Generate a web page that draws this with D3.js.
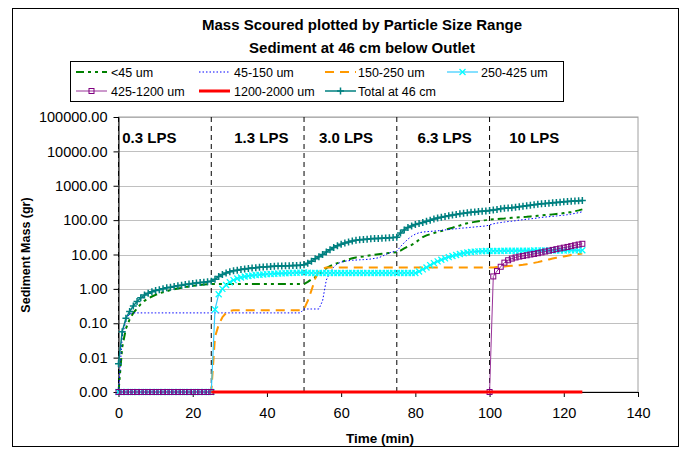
<!DOCTYPE html>
<html>
<head>
<meta charset="utf-8">
<script src="https://cdn.jsdelivr.net/npm/d3@7"></script>
<style>
  body { margin: 0; background: #fff; }
  svg { font-family: Arial, "Liberation Sans", sans-serif; }
</style>
</head>
<body>
<div id="vis"></div>
<script>
//data----
const time = [0,1,2,3,4,5,6,7,8,9,10,11,12,13,14,15,16,17,18,19,20,21,22,23,24,25,
  26,27,28,29,30,31,32,33,34,35,36,37,38,39,40,41,42,43,44,45,46,47,48,49,50,
  51,52,53,54,55,56,57,58,59,60,61,62,63,64,65,66,67,68,69,70,71,72,73,74,75,
  76,77,78,79,80,81,82,83,84,85,86,87,88,89,90,91,92,93,94,95,96,97,98,99,100,
  101,102,103,104,105,106,107,108,109,110,111,112,113,114,115,116,117,118,119,120,121,122,123,124,125]

const lt45 = [0,.02,.07,.13,.2,.27,.36,.45,.53,.6,.67,.74,.8,.86,.92,.97,1.02,1.07,1.12,1.17,1.22,1.26,1.3,1.33,1.36,1.38,
  1.38,1.38,1.38,1.38,1.38,1.38,1.38,1.38,1.38,1.38,1.38,1.38,1.38,1.38,1.38,1.38,1.38,1.38,1.38,1.38,1.38,1.38,1.38,1.38,1.38,
  1.6,1.9,2.2,2.6,3.2,4.0,4.6,5.1,5.6,6.0,6.6,7.2,7.8,8.2,8.5,8.8,9.2,9.6,9.9,10.2,10.5,10.8,11.1,11.4,11.7,
  13,15,17,19,22,27,32,36,39,42,45,48,52,56,60,65,70,76,81,85,89,93,97,100,104,
  106,108,110,112,115,117,119,121,123,125,128,131,134,137,140,143,147,151,155,160,166,173,182,192,205]

const s45to150 = [0,.04,.12,.19,.2,.2,.2,.2,.2,.2,.2,.2,.2,.2,.2,.2,.2,.2,.2,.2,.2,.2,.2,.2,.2,.2,
  .2,.2,.2,.2,.2,.2,.2,.2,.2,.2,.2,.2,.2,.2,.2,.2,.2,.2,.2,.2,.2,.2,.2,.2,.26,
  .26,.26,.26,.26,.45,1.8,3.0,4.3,5.4,6.0,6.4,6.6,6.8,6.9,7.0,7.1,7.2,7.4,7.7,8.0,8.8,10.0,11.2,12.0,12.5,
  17,22,28,34,39,43,45,46,47,48,49,50,52,53,55,56,58,59,60,62,63,65,66,68,72,
  78,82,85,88,91,93,96,100,103,106,109,112,116,120,123,126,129,132,136,139,144,150,157,165,175]

const s150to250 = [0,0,0,0,0,0,0,0,0,0,0,0,0,0,0,0,0,0,0,0,0,0,0,0,0,0,
  .04,.09,.15,.2,.23,.24,.24,.24,.24,.24,.24,.24,.24,.24,.24,.24,.24,.24,.24,.24,.24,.24,.24,.24,.26,
  .45,.9,2.0,3.2,3.9,4.2,4.2,4.2,4.2,4.2,4.2,4.2,4.2,4.2,4.2,4.2,4.2,4.2,4.2,4.2,4.2,4.2,4.2,4.2,4.2,
  4.2,4.2,4.2,4.2,4.2,4.2,4.2,4.2,4.2,4.2,4.2,4.2,4.2,4.2,4.2,4.2,4.2,4.2,4.2,4.2,4.2,4.2,4.2,4.2,4.2,
  4.2,4.3,4.4,4.5,4.6,4.7,4.8,4.9,5.0,5.2,5.4,5.7,6.0,6.4,6.8,7.2,7.6,8.0,8.4,8.8,9.2,9.6,10.0,10.3,10.6]

const s250to425 = [0,0,0,0,0,0,0,0,0,0,0,0,0,0,0,0,0,0,0,0,0,0,0,0,0,0,
  .25,.7,1.0,1.3,1.55,1.8,2.0,2.15,2.28,2.38,2.46,2.52,2.58,2.63,2.68,2.72,2.76,2.8,2.83,2.86,2.89,2.92,2.95,2.97,3.0,
  2.95,2.9,2.9,2.9,2.9,2.9,2.9,2.9,2.9,2.9,2.9,2.9,2.9,2.9,2.9,2.9,2.9,2.9,2.9,2.9,2.9,2.9,2.9,2.9,2.9,
  2.9,2.9,2.9,2.9,2.9,3.2,3.7,4.2,4.9,5.6,6.3,7.0,7.7,8.4,9.0,9.7,10.3,10.9,11.4,11.8,12.1,12.3,12.5,12.6,12.7,
  12.7,12.7,12.7,12.8,12.8,12.8,12.8,12.9,12.9,12.9,12.9,13,13,13,13,13,13.1,13.1,13.1,13.1,13.2,13.2,13.2,13.2,13.3]

const s425to1200 = [0,0,0,0,0,0,0,0,0,0,0,0,0,0,0,0,0,0,0,0,0,0,0,0,0,0,
  null,null,null,null,null,null,null,null,null,null,null,null,null,null,null,null,null,null,null,null,null,null,null,null,null,
  null,null,null,null,null,null,null,null,null,null,null,null,null,null,null,null,null,null,null,null,null,null,null,null,null,
  null,null,null,null,null,null,null,null,null,null,null,null,null,null,null,null,null,null,null,null,null,null,null,null,0,
  2.3,3.3,4.4,5.8,6.8,7.6,8.2,8.7,9.1,9.5,10.0,10.4,10.9,11.5,12.2,12.9,13.6,14.3,15.0,15.8,16.6,17.5,18.5,19.5,20.5]

const s1200to2000 = [null,null,null,null,null,null,null,null,null,null,null,null,null,null,null,null,null,null,null,null,null,null,null,null,null,0,
  0,0,0,0,0,0,0,0,0,0,0,0,0,0,0,0,0,0,0,0,0,0,0,0,0,
  0,0,0,0,0,0,0,0,0,0,0,0,0,0,0,0,0,0,0,0,0,0,0,0,0,
  0,0,0,0,0,0,0,0,0,0,0,0,0,0,0,0,0,0,0,0,0,0,0,0,0,
  0,0,0,0,0,0,0,0,0,0,0,0,0,0,0,0,0,0,0,0,0,0,0,0,0]

const total46 = [.0066,.057,.14,.22,.32,.43,.55,.66,.75,.82,.89,.95,1.01,1.07,1.12,1.18,1.23,1.28,1.33,1.38,1.43,1.48,1.52,1.57,1.61,1.66,
  1.9,2.3,2.6,2.9,3.15,3.35,3.5,3.65,3.78,3.9,4.05,4.15,4.25,4.35,4.42,4.48,4.54,4.6,4.65,4.7,4.74,4.78,4.82,4.86,5.0,
  5.6,6.4,7.5,8.6,10,11.8,13.8,16,18,20,21.7,23.2,24.6,25.8,26.7,27.4,28,28.5,29,29.4,29.8,30.2,30.6,31,31.6,
  42,52,61,68,74,80,86,93,100,108,115,122,128,134,140,146,152,158,164,169,173,177,181,185,190,
  196,205,213,220,225,230,238,246,255,263,272,280,289,297,305,312,319,326,333,340,347,354,361,368,375]

const seriesNames = ["<45 um","45-150 um","150-250 um","250-425 um","425-1200 um","1200-2000 um","Total at 46 cm"]

const phaseStart = [0,25,50,75,100]
const phaseLabel = ["0.3 LPS","1.3 LPS","3.0 LPS","6.3 LPS","10 LPS"]
const phaseLabelAt = [1,31.2,54,80.6,105.3]

const xTicks = [0,20,40,60,80,100,120,140]
const yTicks = [0.001,0.01,0.1,1,10,100,1000,10000,100000]

//styles for each series
const series = [
  {name: seriesNames[0], values: lt45,        color: "#008000", width: 2,   dash: "8,4,3,4,3,4", marker: null},
  {name: seriesNames[1], values: s45to150,    color: "#0000ff", width: 1,   dash: "1.5,2",       marker: null},
  {name: seriesNames[2], values: s150to250,   color: "#ff9900", width: 2,   dash: "9,6",         marker: null},
  {name: seriesNames[3], values: s250to425,   color: "#33ccff", width: 1.2, dash: null,          marker: "x",      mcolor: "#00ffff"},
  {name: seriesNames[4], values: s425to1200,  color: "#993399", width: 1,   dash: null,          marker: "square", mcolor: "#800080"},
  {name: seriesNames[5], values: s1200to2000, color: "#ff0000", width: 3,   dash: null,          marker: null},
  {name: seriesNames[6], values: total46,     color: "#008080", width: 1.5, dash: null,          marker: "plus",   mcolor: "#008080"},
]

//dimensions----
let dimensions = {
  width: 686,
  height: 451,
  plot: {left: 118.5, right: 638, top: 117, bottom: 392},
}

const wrapper = d3.select("#vis")
  .append("svg")
  .attr("width", dimensions.width)
  .attr("height", dimensions.height)

//chart frame
wrapper.append("rect")
  .attr("x", 12.5).attr("y", 8.5)
  .attr("width", 666).attr("height", 438)
  .attr("fill", "#fff").attr("stroke", "#000").attr("stroke-width", 1)

//scales----
const xScale = d3.scaleLinear()
  .domain([0, 140])
  .range([dimensions.plot.left, dimensions.plot.right])

const yScale = d3.scaleLog()
  .domain([0.001, 100000])
  .range([dimensions.plot.bottom, dimensions.plot.top])

const yVal = v => yScale(Math.max(v, 0.001))

//titles
const title = wrapper.append("g")
  .attr("font-weight", "bold").attr("font-size", "15px").attr("text-anchor", "middle")
title.append("text").attr("x", 362).attr("y", 30).text("Mass Scoured plotted by Particle Size Range")
title.append("text").attr("x", 362).attr("y", 53).text("Sediment at 46 cm below Outlet")

//gridlines and plot border
wrapper.append("g")
  .selectAll("line")
  .data(yTicks)
  .enter().append("line")
    .attr("x1", dimensions.plot.left).attr("x2", dimensions.plot.right)
    .attr("y1", d => Math.round(yScale(d)) + 0.5).attr("y2", d => Math.round(yScale(d)) + 0.5)
    .attr("stroke", "#c0c0c0")

wrapper.append("rect")
  .attr("x", dimensions.plot.left).attr("y", dimensions.plot.top)
  .attr("width", dimensions.plot.right - dimensions.plot.left)
  .attr("height", dimensions.plot.bottom - dimensions.plot.top)
  .attr("fill", "none").attr("stroke", "#a0a0a0")

//axes
const yAxis = wrapper.append("g")
  .attr("transform", `translate(${dimensions.plot.left},0)`)
  .call(d3.axisLeft(yScale).tickValues(yTicks).tickFormat(d3.format(".2f")).tickSize(5).tickSizeOuter(0).tickPadding(6))
yAxis.selectAll("text").attr("font-size", "14.5px").attr("font-family", "Arial, 'Liberation Sans', sans-serif").attr("fill", "#000")

const xAxis = wrapper.append("g")
  .attr("transform", `translate(0,${dimensions.plot.bottom})`)
  .call(d3.axisBottom(xScale).tickValues(xTicks).tickSize(5).tickSizeOuter(0).tickPadding(11))
xAxis.selectAll("text").attr("font-size", "14.5px").attr("font-family", "Arial, 'Liberation Sans', sans-serif").attr("fill", "#000")

wrapper.append("text")
  .attr("x", 380).attr("y", 443)
  .attr("text-anchor", "middle").attr("font-weight", "bold").attr("font-size", "13.5px")
  .text("Time (min)")

wrapper.append("text")
  .attr("transform", "translate(30,255) rotate(-90)")
  .attr("text-anchor", "middle").attr("font-weight", "bold").attr("font-size", "12.5px")
  .text("Sediment Mass (gr)")

//phase dividers
wrapper.append("g")
  .selectAll("line")
  .data(phaseStart)
  .enter().append("line")
    .attr("x1", d => xScale(d)).attr("x2", d => xScale(d))
    .attr("y1", dimensions.plot.top).attr("y2", dimensions.plot.bottom)
    .attr("stroke", "#000").attr("stroke-dasharray", "5,4")

wrapper.append("g")
  .selectAll("text")
  .data(phaseLabel)
  .enter().append("text")
    .attr("x", (d, i) => xScale(phaseLabelAt[i]))
    .attr("y", 143)
    .attr("font-weight", "bold").attr("font-size", "15px")
    .text(d => d)

//markers
function drawMarker(g, kind, color) {
  if (kind === "plus") {
    g.append("path").attr("d", "M-3.5,0H3.5M0,-3.5V3.5").attr("stroke", color).attr("stroke-width", 1.5).attr("fill", "none")
  } else if (kind === "x") {
    g.append("path").attr("d", "M-3,-3L3,3M-3,3L3,-3").attr("stroke", color).attr("stroke-width", 1.3).attr("fill", "none")
  } else if (kind === "square") {
    g.append("rect").attr("x", -2.5).attr("y", -2.5).attr("width", 5).attr("height", 5)
      .attr("stroke", color).attr("stroke-width", 1).attr("fill", "none")
  }
}

//series lines
const lineGen = d3.line()
  .defined(d => d.v !== null)
  .x(d => xScale(d.t))
  .y(d => yVal(d.v))

const plot = wrapper.append("g")

series.forEach(s => {
  const pts = time.map((t, i) => ({t: t, v: s.values[i]}))
  plot.append("path")
    .datum(pts)
    .attr("d", lineGen)
    .attr("fill", "none")
    .attr("stroke", s.color)
    .attr("stroke-width", s.width)
    .attr("stroke-dasharray", s.dash)
  if (s.marker) {
    plot.append("g")
      .selectAll("g")
      .data(pts.filter(d => d.v !== null))
      .enter().append("g")
        .attr("transform", d => `translate(${xScale(d.t)},${yVal(d.v)})`)
        .each(function () { drawMarker(d3.select(this), s.marker, s.mcolor) })
  }
})

//legend
const legend = wrapper.append("g")
legend.append("rect")
  .attr("x", 70.5).attr("y", 61.5).attr("width", 493).attr("height", 40)
  .attr("fill", "#fff").attr("stroke", "#000")

const legSymX = [76, 199, 325, 447]
const legTextX = [111, 234, 358, 481]
const legRowY = [72, 91]

series.forEach((s, i) => {
  const col = i < 4 ? i : i - 4
  const row = i < 4 ? 0 : 1
  const y = legRowY[row]
  const item = legend.append("g")
  item.append("line")
    .attr("x1", legSymX[col]).attr("x2", legSymX[col] + 31)
    .attr("y1", y).attr("y2", y)
    .attr("stroke", s.color).attr("stroke-width", s.width).attr("stroke-dasharray", s.dash)
  if (s.marker) {
    const m = item.append("g").attr("transform", `translate(${legSymX[col] + 15.5},${y})`)
    drawMarker(m, s.marker, s.mcolor)
  }
  item.append("text")
    .attr("x", legTextX[col]).attr("y", y + 4.5)
    .attr("font-size", "12.5px")
    .text(s.name)
})
</script>
</body>
</html>
